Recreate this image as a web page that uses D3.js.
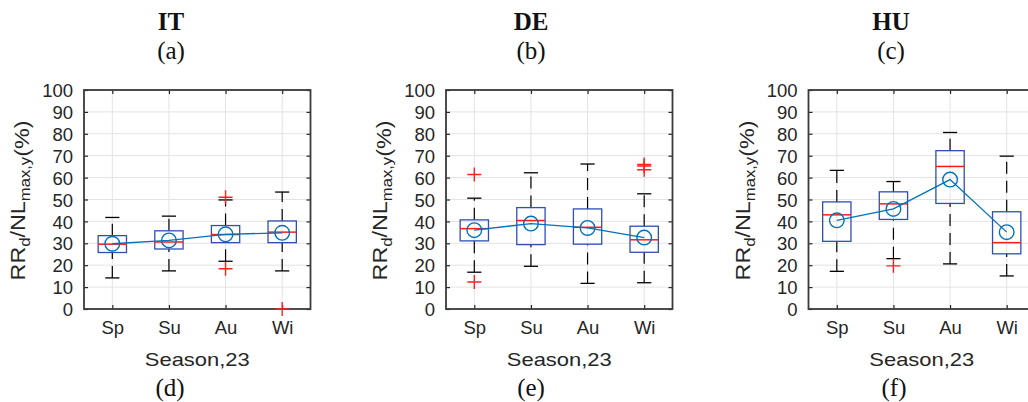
<!DOCTYPE html>
<html><head><meta charset="utf-8">
<script src="https://cdn.jsdelivr.net/npm/d3@7"></script>
<style>body{margin:0;background:#fff;} svg{display:block}</style>
</head><body>
<svg id="c" width="1028" height="402"></svg>
<script>
// ---------- data ----------
const seasons = ["Sp", "Su", "Au", "Wi"];
const countries = ["IT", "DE", "HU"];
const topLabels = ["(a)", "(b)", "(c)"];
const bottomLabels = ["(d)", "(e)", "(f)"];
const yTicks = [0, 10, 20, 30, 40, 50, 60, 70, 80, 90, 100];
const xLabel = "Season,23";

// IT
const IT_low = [14.2, 17.4, 21.8, 17.4];
const IT_q1 = [25.8, 27.4, 30.3, 30.3];
const IT_med = [29.6, 30.6, 34.0, 35.1];
const IT_q3 = [33.5, 35.7, 38.1, 40.2];
const IT_high = [41.8, 42.4, 49.8, 53.4];
const IT_mean = [29.8, 31.3, 34.1, 34.8];
const IT_out = [[], [], [51.0, 18.4], [0]];
// DE
const DE_low = [16.8, 19.5, 11.7, 12.0];
const DE_q1 = [31.1, 29.4, 29.6, 25.9];
const DE_med = [36.7, 40.4, 37.3, 31.6];
const DE_q3 = [40.7, 46.3, 45.7, 37.8];
const DE_high = [50.6, 62.2, 66.2, 52.6];
const DE_mean = [36.0, 39.0, 37.0, 32.6];
const DE_out = [[61.4, 12.3], [], [], [66.0, 65.3, 63.6]];
// HU
const HU_low = [17.2, 23.0, 20.6, 15.1];
const HU_q1 = [30.9, 40.9, 48.2, 25.2];
const HU_med = [43.0, 48.0, 65.1, 30.3];
const HU_q3 = [48.9, 53.5, 72.3, 44.4];
const HU_high = [63.3, 58.2, 80.6, 69.8];
const HU_mean = [40.5, 45.7, 59.1, 35.1];
const HU_out = [[], [19.7], [], []];

const panelsData = [
  {low: IT_low, q1: IT_q1, med: IT_med, q3: IT_q3, high: IT_high, mean: IT_mean, out: IT_out},
  {low: DE_low, q1: DE_q1, med: DE_med, q3: DE_q3, high: DE_high, mean: DE_mean, out: DE_out},
  {low: HU_low, q1: HU_q1, med: HU_med, q3: HU_q3, high: HU_high, mean: HU_mean, out: HU_out}
];

// ---------- layout ----------
const svg = d3.select("#c");
const lefts = [84, 446, 808.5];
const pw = 226.5, pTop = 90, pBottom = 309;
const titleX = [171, 531, 891];
const botX = [170, 531, 894];
const axisColor = "#262626";
const sans = "'Liberation Sans', Arial, Helvetica, sans-serif";
const serif = "'Liberation Serif', 'Times New Roman', serif";

const y = d3.scaleLinear().domain([0, 100]).range([pBottom, pTop]);

panelsData.forEach((d, pi) => {
  const L = lefts[pi];
  const x = d3.scaleLinear().domain([0.5, 4.5]).range([L, L + pw]);
  const band = x(2) - x(1);
  const bw = band * 0.5, cw = band * 0.25;
  const g = svg.append("g");

  // grid
  g.selectAll(".gy").data(yTicks).enter().append("line")
    .attr("x1", L).attr("x2", L + pw).attr("y1", v => y(v)).attr("y2", v => y(v))
    .attr("stroke", "#e3e3e3").attr("stroke-width", 1);
  g.selectAll(".gx").data(seasons).enter().append("line")
    .attr("x1", (s, i) => x(i + 1)).attr("x2", (s, i) => x(i + 1))
    .attr("y1", pTop).attr("y2", pBottom)
    .attr("stroke", "#e3e3e3").attr("stroke-width", 1);

  // axes via d3
  const yAxis = d3.axisLeft(y).tickValues(yTicks).tickSizeInner(-4).tickSizeOuter(0).tickPadding(11);
  const ya = g.append("g").attr("transform", `translate(${L},0)`).call(yAxis);
  const xAxis = d3.axisBottom(x).tickValues([1, 2, 3, 4]).tickFormat((v) => seasons[v - 1])
    .tickSizeInner(-4).tickSizeOuter(0).tickPadding(12);
  const xa = g.append("g").attr("transform", `translate(0,${pBottom})`).call(xAxis);
  const yAxisR = d3.axisRight(y).tickValues(yTicks).tickSizeInner(-4).tickSizeOuter(0).tickFormat("");
  const yr = g.append("g").attr("transform", `translate(${L + pw},0)`).call(yAxisR);
  const xAxisT = d3.axisTop(x).tickValues([1, 2, 3, 4]).tickSizeInner(-4).tickSizeOuter(0).tickFormat("");
  const xt = g.append("g").attr("transform", `translate(0,${pTop})`).call(xAxisT);
  [ya, xa, yr, xt].forEach(a => {
    a.select(".domain").remove();
    a.selectAll(".tick line").attr("stroke", axisColor).attr("stroke-width", 1.2);
    a.selectAll("text").attr("fill", axisColor).style("font-family", sans).style("font-size", "18.5px");
  });
  ya.selectAll("text").attr("dy", "0.36em");
  // frame
  g.append("rect").attr("x", L).attr("y", pTop).attr("width", pw).attr("height", pBottom - pTop)
    .attr("fill", "none").attr("stroke", "#3a3a3a").attr("stroke-width", 1.8);

  // boxes
  seasons.forEach((s, i) => {
    const cx = x(i + 1);
    const bg = g.append("g");
    // whiskers (drawn bottom to top)
    bg.append("line").attr("x1", cx).attr("x2", cx).attr("y1", y(d.q3[i])).attr("y2", y(d.high[i]))
      .attr("stroke", "#000").attr("stroke-width", 1.2).attr("stroke-dasharray", "12,7");
    bg.append("line").attr("x1", cx).attr("x2", cx).attr("y1", y(d.low[i])).attr("y2", y(d.q1[i]))
      .attr("stroke", "#000").attr("stroke-width", 1.2).attr("stroke-dasharray", "12,7");
    // caps
    [d.low[i], d.high[i]].forEach(v => {
      bg.append("line").attr("x1", cx - cw / 2).attr("x2", cx + cw / 2).attr("y1", y(v)).attr("y2", y(v))
        .attr("stroke", "#000").attr("stroke-width", 1.3);
    });
    // box
    bg.append("rect").attr("x", cx - bw / 2).attr("width", bw)
      .attr("y", y(d.q3[i])).attr("height", y(d.q1[i]) - y(d.q3[i]))
      .attr("fill", "none").attr("stroke", "#2f4fb5").attr("stroke-width", 1.3);
    // median
    bg.append("line").attr("x1", cx - bw / 2).attr("x2", cx + bw / 2)
      .attr("y1", y(d.med[i])).attr("y2", y(d.med[i]))
      .attr("stroke", "#ff1a1a").attr("stroke-width", 1.5);
    // outliers
    d.out[i].forEach(v => {
      bg.append("path").attr("d", `M${cx - 7},${y(v)}H${cx + 7}M${cx},${y(v) - 7}V${y(v) + 7}`)
        .attr("stroke", "#ff2020").attr("stroke-width", 1.4).attr("fill", "none");
    });
  });

  // mean line & circles
  const line = d3.line().x((v, i) => x(i + 1)).y(v => y(v));
  g.append("path").attr("d", line(d.mean)).attr("fill", "none")
    .attr("stroke", "#0072BD").attr("stroke-width", 1.3);
  g.selectAll(".mc").data(d.mean).enter().append("circle")
    .attr("cx", (v, i) => x(i + 1)).attr("cy", v => y(v)).attr("r", 7.3)
    .attr("fill", "none").attr("stroke", "#0072BD").attr("stroke-width", 1.4);

  // x label
  const xl = g.append("text").attr("x", 0).attr("y", 0)
    .attr("text-anchor", "middle").attr("fill", axisColor)
    .style("font-family", sans).style("font-size", "19px").text(xLabel);
  const xlw = xl.node().getComputedTextLength();
  xl.attr("transform", `translate(${L + pw / 2},365.5) scale(${105 / xlw},1)`);

  // y label
  const yl = g.append("text").attr("text-anchor", "middle").attr("fill", axisColor)
    .style("font-family", sans).style("font-size", "21px");
  yl.append("tspan").text("RR");
  yl.append("tspan").attr("dy", 5).style("font-size", "15px").text("d");
  yl.append("tspan").attr("dy", -5).text("/NL");
  yl.append("tspan").attr("dy", 5).style("font-size", "15px").text("max,y");
  yl.append("tspan").attr("dy", -1).text("(%)");
  const ylw = yl.node().getComputedTextLength();
  yl.attr("transform", `translate(${L - 59},${(pTop + pBottom) / 2 + 1}) rotate(-90) scale(${160 / ylw},1)`);

  // titles
  svg.append("text").attr("x", titleX[pi]).attr("y", 30).attr("text-anchor", "middle")
    .style("font-family", serif).style("font-size", "25px").style("font-weight", "bold")
    .attr("fill", "#111").text(countries[pi]);
  svg.append("text").attr("x", titleX[pi]).attr("y", 59).attr("text-anchor", "middle")
    .style("font-family", serif).style("font-size", "25px")
    .attr("fill", "#111").text(topLabels[pi]);
  svg.append("text").attr("x", botX[pi]).attr("y", 396).attr("text-anchor", "middle")
    .style("font-family", serif).style("font-size", "25px")
    .attr("fill", "#111").text(bottomLabels[pi]);
});
</script>
</body></html>
